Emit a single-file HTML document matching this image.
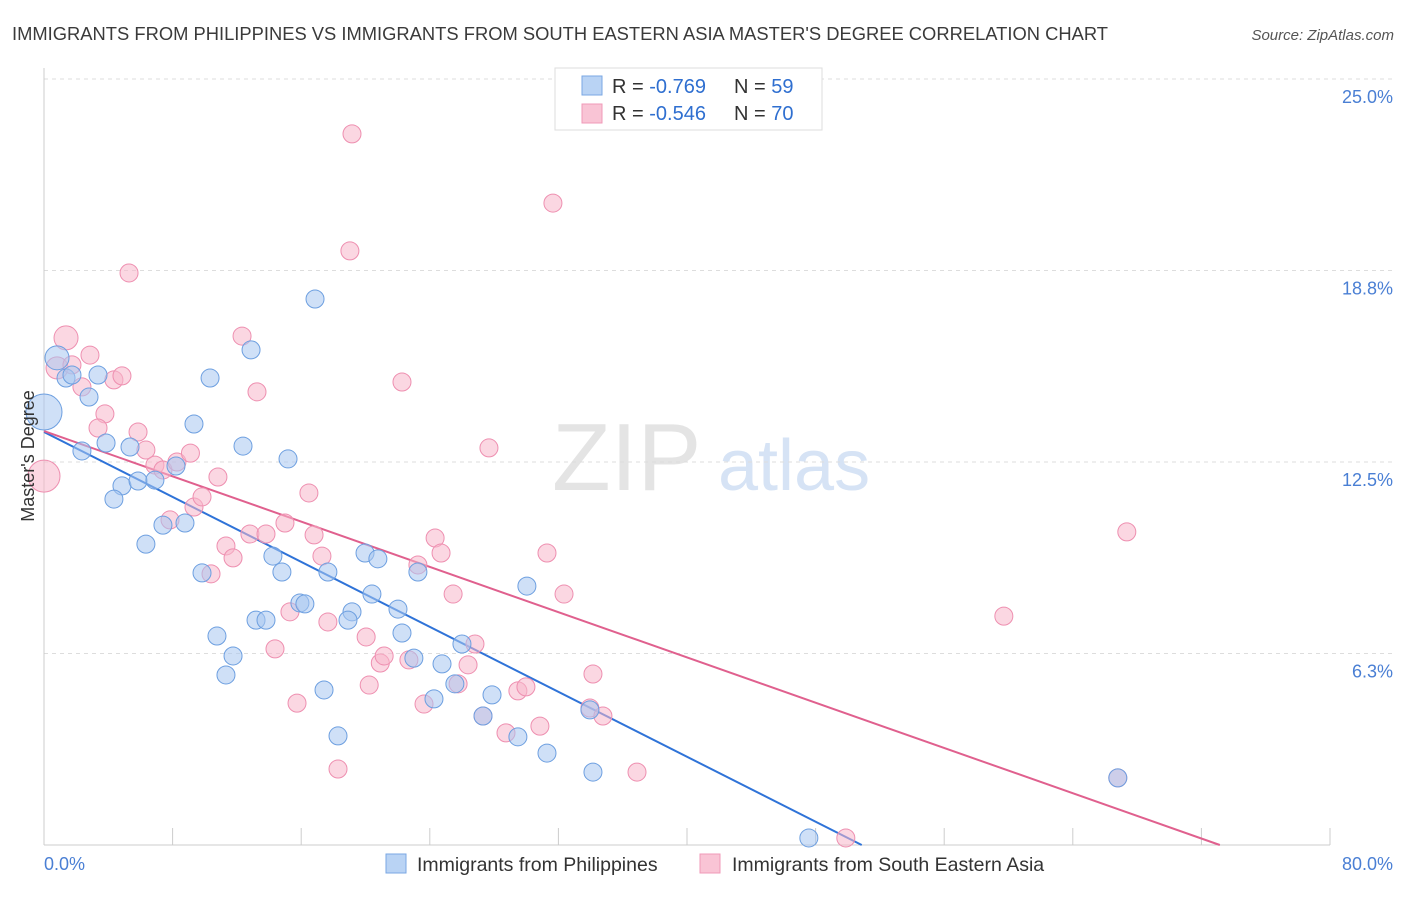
<!DOCTYPE html>
<html><head><meta charset="utf-8"><style>
body{margin:0;background:#fff;font-family:"Liberation Sans",sans-serif;}
svg text{font-family:"Liberation Sans",sans-serif;}
</style></head><body>
<svg id="chart" width="1406" height="892" xmlns="http://www.w3.org/2000/svg">
<text x="12" y="40" font-size="18" fill="#3a3a3a" textLength="1096" lengthAdjust="spacingAndGlyphs">IMMIGRANTS FROM PHILIPPINES VS IMMIGRANTS FROM SOUTH EASTERN ASIA MASTER'S DEGREE CORRELATION CHART</text>
<text x="1394" y="40" font-size="15" fill="#555" text-anchor="end" font-style="italic">Source: ZipAtlas.com</text>
<g>
<text x="552" y="490" font-size="96" fill="#e4e4e4" font-family="Liberation Serif">ZIP</text>
<text x="718" y="490" font-size="72" fill="#d6e3f5">atlas</text>
</g>
<g id="grid"></g>
<g id="axes"></g>
<g id="lines"></g>
<g id="pts"></g>
<text transform="translate(34,456) rotate(-90)" font-size="18" fill="#333" text-anchor="middle">Master's Degree</text>
<g>
<rect x="555" y="68" width="267" height="62" fill="#fff" stroke="#ddd"/>
<rect x="582" y="76" width="20" height="19" fill="#b9d3f4" stroke="#7aa7e3"/>
<rect x="582" y="104" width="20" height="19" fill="#f9c4d5" stroke="#f09ab8"/>
<text x="612" y="93" font-size="20" fill="#333">R = <tspan fill="#2f6fd0">-0.769</tspan></text>
<text x="734" y="93" font-size="20" fill="#333">N = <tspan fill="#2f6fd0">59</tspan></text>
<text x="612" y="120" font-size="20" fill="#333">R = <tspan fill="#2f6fd0">-0.546</tspan></text>
<text x="734" y="120" font-size="20" fill="#333">N = <tspan fill="#2f6fd0">70</tspan></text>
</g>
<g>
<rect x="386" y="854" width="20" height="19" fill="#b9d3f4" stroke="#7aa7e3"/>
<text x="417" y="871" font-size="19.5" fill="#333">Immigrants from Philippines</text>
<rect x="700" y="854" width="20" height="19" fill="#f9c4d5" stroke="#f09ab8"/>
<text x="732" y="871" font-size="19.5" fill="#333">Immigrants from South Eastern Asia</text>
</g>
</svg>
<script>
const yTicks=[6.25,12.5,18.75,25];
const yTickLabels=["6.3%","12.5%","18.8%","25.0%"];
const xTicks=[0,8,16,24,32,40,48,56,64,72,80];
const blueX=[0,0.81,1.37,1.74,2.80,3.36,2.36,3.86,5.35,4.85,4.35,5.85,6.90,8.21,7.40,8.77,6.34,9.33,10.33,12.38,12.88,15.18,16.86,9.83,10.76,11.76,11.32,13.19,13.81,14.24,14.80,15.92,16.23,17.66,17.42,18.29,19.16,18.91,19.97,20.77,20.40,22.02,22.27,23.26,23.01,24.26,24.76,25.56,26.00,27.31,27.87,29.48,30.04,31.29,33.96,34.15,47.58,66.80];
const blueY=[14.13,15.90,15.24,15.34,14.62,15.34,12.86,13.12,12.99,11.72,11.29,11.88,11.91,12.37,10.44,10.51,9.82,13.74,15.24,13.02,16.16,12.60,17.82,8.88,6.82,6.17,5.55,7.34,7.34,9.43,8.91,7.90,7.87,8.91,5.06,3.56,7.61,7.34,9.53,9.34,8.19,7.70,6.92,8.91,6.10,4.77,5.91,5.26,6.56,4.21,4.90,3.53,8.45,3.00,4.41,2.38,0.23,2.19];
const pinkX=[0,1.37,0.81,2.86,1.74,2.36,3.79,3.36,4.35,4.85,5.29,5.85,6.34,6.90,7.40,7.84,8.27,9.11,9.33,9.83,10.39,10.82,11.32,11.76,12.32,12.81,13.25,13.81,14.37,14.99,15.30,15.74,16.48,16.80,17.29,17.66,18.29,19.03,19.16,20.04,20.23,20.92,21.16,22.27,22.70,23.26,23.64,24.33,24.70,25.45,25.76,26.38,26.81,27.31,27.68,28.74,29.48,29.98,30.85,31.29,31.66,32.35,34.15,33.96,34.77,36.89,49.88,59.71,66.80,67.36];
const pinkY=[12.04,16.55,15.57,15.99,15.67,14.95,14.07,13.61,15.18,15.31,18.67,13.48,12.89,12.40,12.24,10.61,12.50,12.79,11.03,11.36,8.85,12.01,9.76,9.37,16.61,10.15,14.79,10.15,6.40,10.51,7.61,4.63,11.49,10.12,9.43,7.28,2.48,19.39,23.21,6.79,5.22,5.94,6.17,15.11,6.04,9.14,4.60,10.02,9.53,8.19,5.26,5.88,6.56,4.21,12.96,3.66,5.03,5.16,3.88,9.53,20.95,8.19,5.58,4.47,4.21,2.38,0.23,7.47,2.19,10.22];
const blueR=[18,12];
const pinkR=[16,12,11];
const trendIntercept=[13.48,13.51];
const trendSlope=[-0.265,-0.1847];
const NS="http://www.w3.org/2000/svg";
const X0=44,X1=1330,Y0=845,Y1=79;
function sx(v){return X0+(v/80)*(X1-X0);}
function sy(v){return Y0-(v/25)*(Y0-Y1);}
function mk(tag,attrs,parent){const e=document.createElementNS(NS,tag);for(const k in attrs)e.setAttribute(k,attrs[k]);parent.appendChild(e);return e;}
const grid=document.getElementById('grid'),axes=document.getElementById('axes'),lines=document.getElementById('lines'),pts=document.getElementById('pts');
yTicks.forEach((t,i)=>{
 const l=mk('line',{x1:X0,x2:1394,y1:sy(t),y2:sy(t),stroke:'#ddd','stroke-dasharray':'4,4'},grid);
 
 
 const tx=mk('text',{x:1393,y:sy(t)+24,'font-size':18,fill:'#4a7fd4','text-anchor':'end'},axes);
 tx.textContent=yTickLabels[i];
 
 
});
const ax=mk('line',{x1:X0,x2:X1,y1:Y0,y2:Y0,stroke:'#ccc'},axes);


const ay=mk('line',{x1:X0,x2:X0,y1:68,y2:Y0,stroke:'#ccc'},axes);


xTicks.forEach(t=>{
 const l=mk('line',{x1:sx(t),x2:sx(t),y1:828,y2:Y0,stroke:'#ccc'},axes);
 
 
});
const xl0=mk('text',{x:44,y:870,'font-size':18,fill:'#4a7fd4'},axes);xl0.textContent='0.0%';


const xl1=mk('text',{x:1393,y:870,'font-size':18,fill:'#4a7fd4','text-anchor':'end'},axes);xl1.textContent='80.0%';


function drawPts(xs,ys,big,fill,stroke,name){
 xs.forEach((x,i)=>{
  const r=i<big.length?big[i]:9;
  const c=mk('circle',{cx:sx(x),cy:sy(ys[i]),r:r,fill:fill,'fill-opacity':0.55,stroke:stroke,'stroke-width':1},pts);
  
  
 });
}
drawPts(pinkX,pinkY,pinkR,'#f7b6cb','#ee8fb0','point-south-eastern-asia');
drawPts(blueX,blueY,blueR,'#a7c6f0','#6d9fe0','point-philippines');
const colors=['#2f73d8','#e0608e'];
const tnames=['trend-line-philippines','trend-line-south-eastern-asia'];
trendIntercept.forEach((b,i)=>{
 const xe=-b/trendSlope[i];
 const l=mk('line',{x1:sx(0),y1:sy(b),x2:sx(xe),y2:sy(0),stroke:colors[i],'stroke-width':2},lines);
 
 
});
</script>
</body></html>
